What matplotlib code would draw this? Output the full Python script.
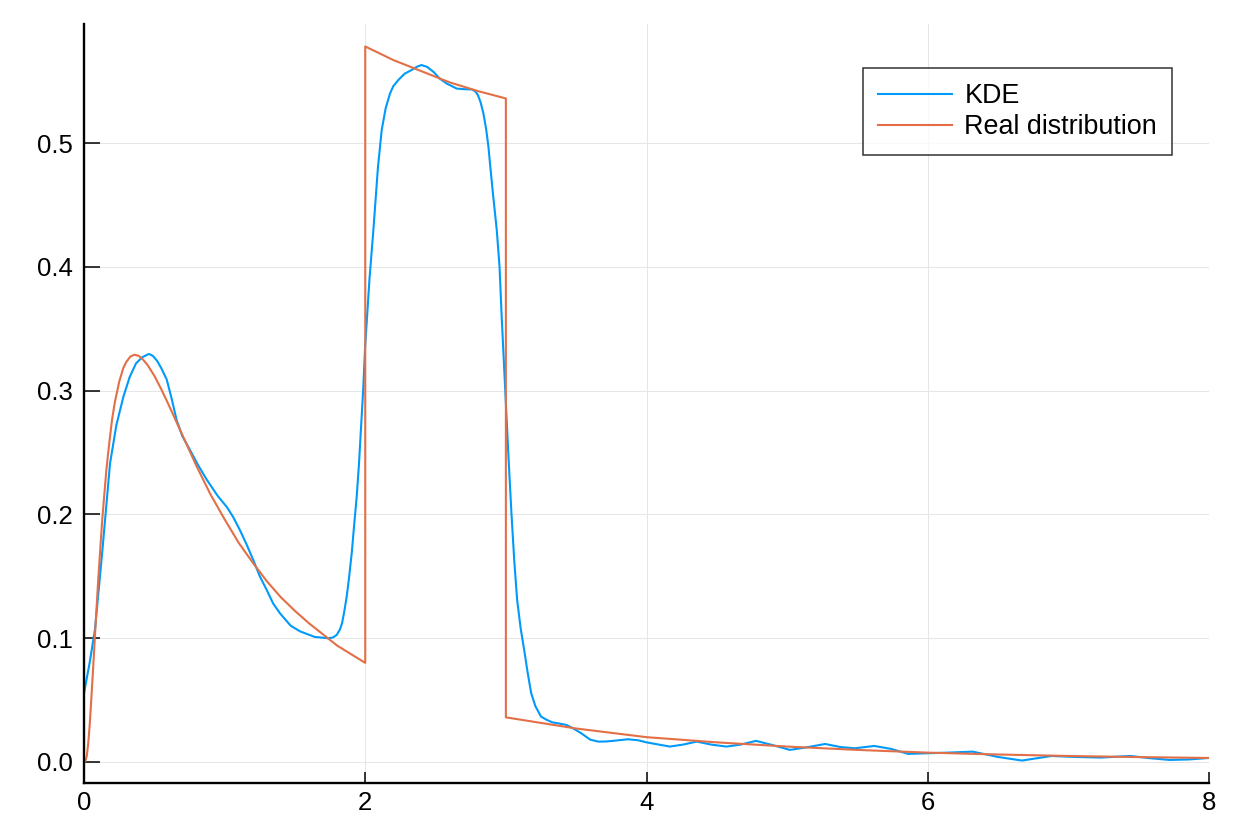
import matplotlib
matplotlib.use("Agg")
import matplotlib.pyplot as plt

plt.rcParams['font.family'] = ['Liberation Sans', 'DejaVu Sans']

# KDE estimate
kde_x = [0.0, 0.04, 0.078, 0.13, 0.185, 0.23, 0.28, 0.325, 0.37, 0.415, 0.462,
         0.49, 0.52, 0.55, 0.588, 0.62, 0.659, 0.70, 0.754, 0.81, 0.873, 0.95,
         1.015, 1.06, 1.11, 1.155, 1.204, 1.25, 1.299, 1.345, 1.394, 1.47,
         1.536, 1.64, 1.738, 1.77, 1.797, 1.82, 1.835, 1.85, 1.868, 1.885,
         1.905, 1.92, 1.939, 1.955, 1.97, 1.985, 1.999, 2.015, 2.03, 2.058,
         2.09, 2.117, 2.145, 2.176, 2.2, 2.236, 2.28, 2.33, 2.365, 2.40, 2.44,
         2.485, 2.53, 2.58, 2.65, 2.70, 2.757, 2.78, 2.80, 2.82, 2.84, 2.86,
         2.876, 2.89, 2.91, 2.935, 2.955, 2.97, 2.985, 3.0, 3.02, 3.04, 3.06,
         3.08, 3.105, 3.13, 3.155, 3.18, 3.21, 3.25, 3.29, 3.33, 3.38, 3.43,
         3.48, 3.535, 3.6, 3.657, 3.71, 3.76, 3.868, 3.94, 4.0, 4.08, 4.166,
         4.26, 4.357, 4.46, 4.568, 4.67, 4.779, 4.9, 5.02, 5.15, 5.27, 5.38,
         5.48, 5.62, 5.74, 5.86, 6.0, 6.14, 6.32, 6.5, 6.67, 6.88, 7.05, 7.23,
         7.44, 7.58, 7.72, 7.86, 8.0]
kde_y = [0.0555, 0.08, 0.107, 0.17, 0.241, 0.272, 0.295, 0.311, 0.322, 0.327, 0.3296,
         0.328, 0.324, 0.318, 0.309, 0.295, 0.276, 0.263, 0.252, 0.240, 0.228, 0.215,
         0.206, 0.198, 0.187, 0.176, 0.163, 0.150, 0.139, 0.128, 0.120, 0.110,
         0.1055, 0.101, 0.0999, 0.1005, 0.1026, 0.107, 0.112, 0.121, 0.1335, 0.149,
         0.17, 0.19, 0.214, 0.24, 0.27, 0.30, 0.335, 0.364, 0.39, 0.43,
         0.48, 0.5105, 0.528, 0.540, 0.546, 0.551, 0.556, 0.559, 0.5615, 0.563, 0.5615,
         0.5575, 0.552, 0.548, 0.544, 0.5435, 0.5433, 0.542, 0.539, 0.533, 0.524, 0.511,
         0.497, 0.48, 0.457, 0.430, 0.40, 0.36, 0.325, 0.29, 0.243, 0.20, 0.162,
         0.131, 0.108, 0.0905, 0.072, 0.0555, 0.045, 0.0366, 0.034, 0.032, 0.031, 0.0299,
         0.027, 0.0232, 0.018, 0.0164, 0.0165, 0.017, 0.0183, 0.0175, 0.0158, 0.0142, 0.0124,
         0.014, 0.0164, 0.014, 0.0124, 0.014, 0.017, 0.0135, 0.0097, 0.012, 0.0145, 0.012,
         0.011, 0.0129, 0.0105, 0.0065, 0.007, 0.0075, 0.0083, 0.004, 0.0011, 0.0048, 0.004, 0.0035,
         0.0048, 0.003, 0.0016, 0.002, 0.0032]

# real density
real_x = [0.0, 0.01, 0.02, 0.03, 0.04, 0.05, 0.065, 0.08, 0.09, 0.1, 0.115, 0.13,
          0.14, 0.16, 0.18, 0.2, 0.22, 0.25, 0.28, 0.3, 0.33, 0.36, 0.39, 0.42,
          0.45, 0.5, 0.55, 0.6, 0.65, 0.7, 0.8, 0.9, 1.0, 1.1, 1.2, 1.3, 1.4, 1.5,
          1.6, 1.7, 1.8, 1.9, 2.0,
          2.0, 2.1, 2.2, 2.3, 2.4, 2.5, 2.6, 2.7, 2.8, 2.9, 3.0,
          3.0, 3.25, 3.5, 3.75, 4.0, 4.5, 5.0, 5.5, 6.0, 6.5, 7.0, 7.5, 8.0]
real_y = [0.0, 0.0005, 0.005, 0.015, 0.029, 0.047, 0.076, 0.106, 0.1256, 0.145, 0.171, 0.196,
          0.210, 0.237, 0.258, 0.277, 0.291, 0.307, 0.3184, 0.323, 0.3275, 0.329, 0.328, 0.325,
          0.321, 0.312, 0.301, 0.289, 0.2765, 0.264, 0.239, 0.216, 0.196, 0.177, 0.161, 0.146, 0.133, 0.122,
          0.112, 0.103, 0.094, 0.087, 0.080,
          0.578, 0.5725, 0.567, 0.5625, 0.558, 0.5535, 0.549, 0.5455, 0.542, 0.539, 0.536,
          0.036, 0.0315, 0.027, 0.0235, 0.020, 0.0158, 0.0124, 0.0097, 0.0075, 0.006, 0.0048, 0.0039, 0.0032]

x_ticks = [0, 2, 4, 6, 8]
y_ticks = [0.0, 0.1, 0.2, 0.3, 0.4, 0.5]
y_labels = ["0.0", "0.1", "0.2", "0.3", "0.4", "0.5"]

assert len(kde_x) == len(kde_y)
assert len(real_x) == len(real_y)

fig = plt.figure(figsize=(12.5, 8.34), dpi=100)
ax = fig.add_axes([0.0672, 0.0612, 0.9, 0.9098])

ax.plot(kde_x, kde_y, color='#009AFA', lw=1.5, label='KDE', solid_joinstyle='round')
ax.plot(real_x, real_y, color='#E36F47', lw=1.5, label='Real distribution', solid_joinstyle='round')

ax.set_xlim(0, 8)
ax.set_ylim(-0.017, 0.596)
ax.set_xticks(x_ticks)
ax.set_yticks(y_ticks)
ax.set_yticklabels(y_labels)

ax.grid(True, color='#e6e6e6', lw=0.75)
ax.set_axisbelow(True)
for side in ['top', 'right']:
    ax.spines[side].set_visible(False)
for side in ['left', 'bottom']:
    ax.spines[side].set_linewidth(1.7)

ax.tick_params(axis='both', direction='in', width=1.1, labelsize=18.5, colors='black')
ax.tick_params(axis='y', length=11.5, pad=8)
ax.tick_params(axis='x', length=8, pad=6)

leg = ax.legend(loc='upper right', bbox_to_anchor=(0.967, 0.942), fontsize=19.4,
                frameon=True, fancybox=False, handlelength=2.75, handletextpad=0.45,
                labelspacing=0.2, borderpad=0.55, borderaxespad=0)
leg.get_frame().set_edgecolor('black')
leg.get_frame().set_linewidth(1.1)

fig.savefig('out.png', dpi=100)
